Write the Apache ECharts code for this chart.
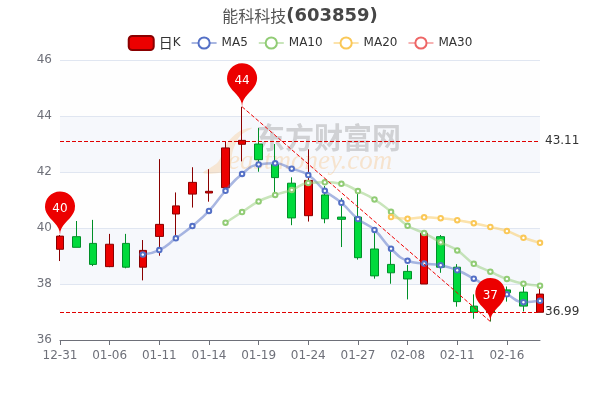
<!DOCTYPE html>
<html><head><meta charset="utf-8">
<style>html,body{margin:0;padding:0;background:#fff}#c{width:600px;height:400px}</style>
<script src="https://cdn.jsdelivr.net/npm/echarts@6/dist/echarts.min.js"></script>
</head><body><div id="c"></div>
<script>
const dates=['12-31','01-04','01-05','01-06','01-07','01-10','01-11','01-12','01-13','01-14','01-17','01-18','01-19','01-20','01-21','01-24','01-25','01-26','01-27','01-28','02-07','02-08','02-09','02-10','02-11','02-14','02-15','02-16','02-17','02-18'];
// open, close, low, high
const kline=[
[39.24,39.71,38.82,39.75],[39.69,39.31,39.31,40.25],[39.45,38.70,38.64,40.29],[38.62,39.42,38.60,39.79],[39.45,38.60,38.56,39.79],
[38.60,39.20,38.13,39.57],[39.70,40.13,39.01,42.46],[40.50,40.79,39.63,41.27],[41.21,41.63,40.73,42.17],[41.25,41.31,40.94,42.10],
[41.44,42.86,41.44,43.10],[42.99,43.13,42.38,44.33],[43.00,42.44,42.01,43.57],[42.27,41.80,41.26,43.00],[41.60,40.36,40.10,41.81],
[40.44,41.70,40.23,42.81],[41.18,40.33,40.17,41.50],[40.39,40.31,39.32,41.07],[40.39,38.94,38.87,41.25],[39.25,38.29,38.19,39.93],
[38.70,38.40,38.01,39.26],[38.45,38.18,37.45,38.68],[38.00,39.81,38.00,39.85],[39.69,38.60,38.40,39.75],[38.60,37.37,37.19,38.71],
[37.21,36.99,36.76,37.63],[37.35,37.00,36.66,37.80],[37.79,37.69,37.37,37.91],[37.71,37.21,37.02,37.90],[36.99,37.64,36.99,37.82]];
const ma5=[null,null,null,null,null,39.05,39.21,39.63,40.07,40.61,41.33,41.93,42.27,42.31,42.12,41.89,41.33,40.90,40.32,39.93,39.26,38.83,38.73,38.67,38.49,38.19,37.85,37.63,37.35,37.40];
const ma10=[null,null,null,null,null,null,null,null,null,null,40.19,40.57,40.95,41.18,41.36,41.61,41.63,41.58,41.32,41.02,40.58,40.08,39.82,39.49,39.20,38.72,38.44,38.18,38.01,37.94];
const ma20=[null,null,null,null,null,null,null,null,null,null,null,null,null,null,null,null,null,null,null,null,40.39,40.33,40.38,40.35,40.28,40.17,40.04,39.89,39.65,39.47];
const ma30=dates.map(()=>null);
const pins=[[0,39.75,'40'],[11,44.33,'44'],[26,36.66,'37']];
const levels=[43.11,36.99];
const trend=[[11,44.33],[26,36.66]];

const maSeries=(name,data,color)=>({name,type:'line',data,smooth:true,symbol:'emptyCircle',symbolSize:4.5,showSymbol:true,
  itemStyle:{color,borderWidth:2},lineStyle:{color,width:2.5,opacity:0.5},z:3});
const chart=echarts.init(document.getElementById('c'),null,{renderer:'canvas'});
chart.setOption({
 animation:false,
 backgroundColor:'#fff',
 textStyle:{fontFamily:'"DejaVu Sans","Noto Sans CJK SC",sans-serif'},
 title:{text:'{a|能科科技}{b|(603859)}',left:'center',top:2,textStyle:{rich:{a:{fontSize:16,fontWeight:'normal',color:'#555',fontFamily:'"Noto Sans CJK SC"'},b:{fontSize:18,fontWeight:'bold',color:'#464646',fontFamily:'"DejaVu Sans"'}}}},
 legend:{top:30,left:'center',itemWidth:25,itemHeight:14,itemGap:10,
   formatter:n=>n==='日K'?'{a|日}{b|K}':n,
   textStyle:{fontSize:12,color:'#333',rich:{a:{fontSize:14,color:'#333',fontFamily:'"Noto Sans CJK SC"'},b:{fontSize:12,color:'#333'}}},
   data:['日K','MA5','MA10','MA20','MA30']},
 grid:{left:60,right:60,top:60,bottom:60},
 graphic:[
  {type:'polygon',z:1,silent:true,shape:{smooth:0.3,points:[[203,173],[218,162],[228,142],[240,131],[252,128],[240,136],[233,150],[228,170]]},style:{fill:'rgba(245,190,120,0.3)'}},
  {type:'text',left:256,top:123,z:1,silent:true,style:{text:'东方财富网',font:'bold 29px "Noto Sans CJK SC"',fill:'rgba(120,120,120,0.3)'}},
  {type:'text',left:228,top:148,z:1,silent:true,style:{text:'eastmoney.com',font:'italic 27px "Liberation Serif"',fill:'rgba(245,190,120,0.35)'}}
 ],
 xAxis:{type:'category',data:dates,boundaryGap:false,axisLine:{lineStyle:{color:'#6E7079'}},axisTick:{show:true,interval:2},axisLabel:{interval:2,margin:10,color:'#6E7079',fontSize:12},splitLine:{show:false}},
 yAxis:{type:'value',min:36,max:46,interval:2,scale:true,axisLine:{show:false},axisTick:{show:false},axisLabel:{color:'#6E7079',fontSize:12,padding:[2,0,0,0]},splitLine:{show:true,lineStyle:{color:'#E0E6F1'}},
   splitArea:{show:true,areaStyle:{color:['rgba(250,250,250,0.2)','rgba(210,219,238,0.2)']}}},
 series:[
  {name:'日K',type:'candlestick',data:kline,barWidth:8,clip:false,z:2,
   itemStyle:{color:'#ec0000',color0:'#00da3c',borderColor:'#8A0000',borderColor0:'#008F28'},
   markPoint:{symbol:'pin',symbolSize:50,itemStyle:{color:'#ec0000'},label:{color:'#fff',fontSize:12},
     data:pins.map(p=>({coord:[p[0],p[1]],value:p[2]}))},
   markLine:{symbol:'none',silent:true,animation:false,
     label:{position:'end',color:'#333',fontSize:12},
     lineStyle:{color:'#e00000',type:'dashed',width:1},
     data:[...levels.map(v=>({yAxis:v,label:{formatter:v.toFixed(2)}})),
       [{coord:trend[0],lineStyle:{color:'#f00000',type:'dashed',width:1},label:{show:false}},{coord:trend[1]}]]}
  },
  maSeries('MA5',ma5,'#5470c6'),
  maSeries('MA10',ma10,'#91cc75'),
  maSeries('MA20',ma20,'#fac858'),
  maSeries('MA30',ma30,'#ee6666')
 ]
});
</script></body></html>
